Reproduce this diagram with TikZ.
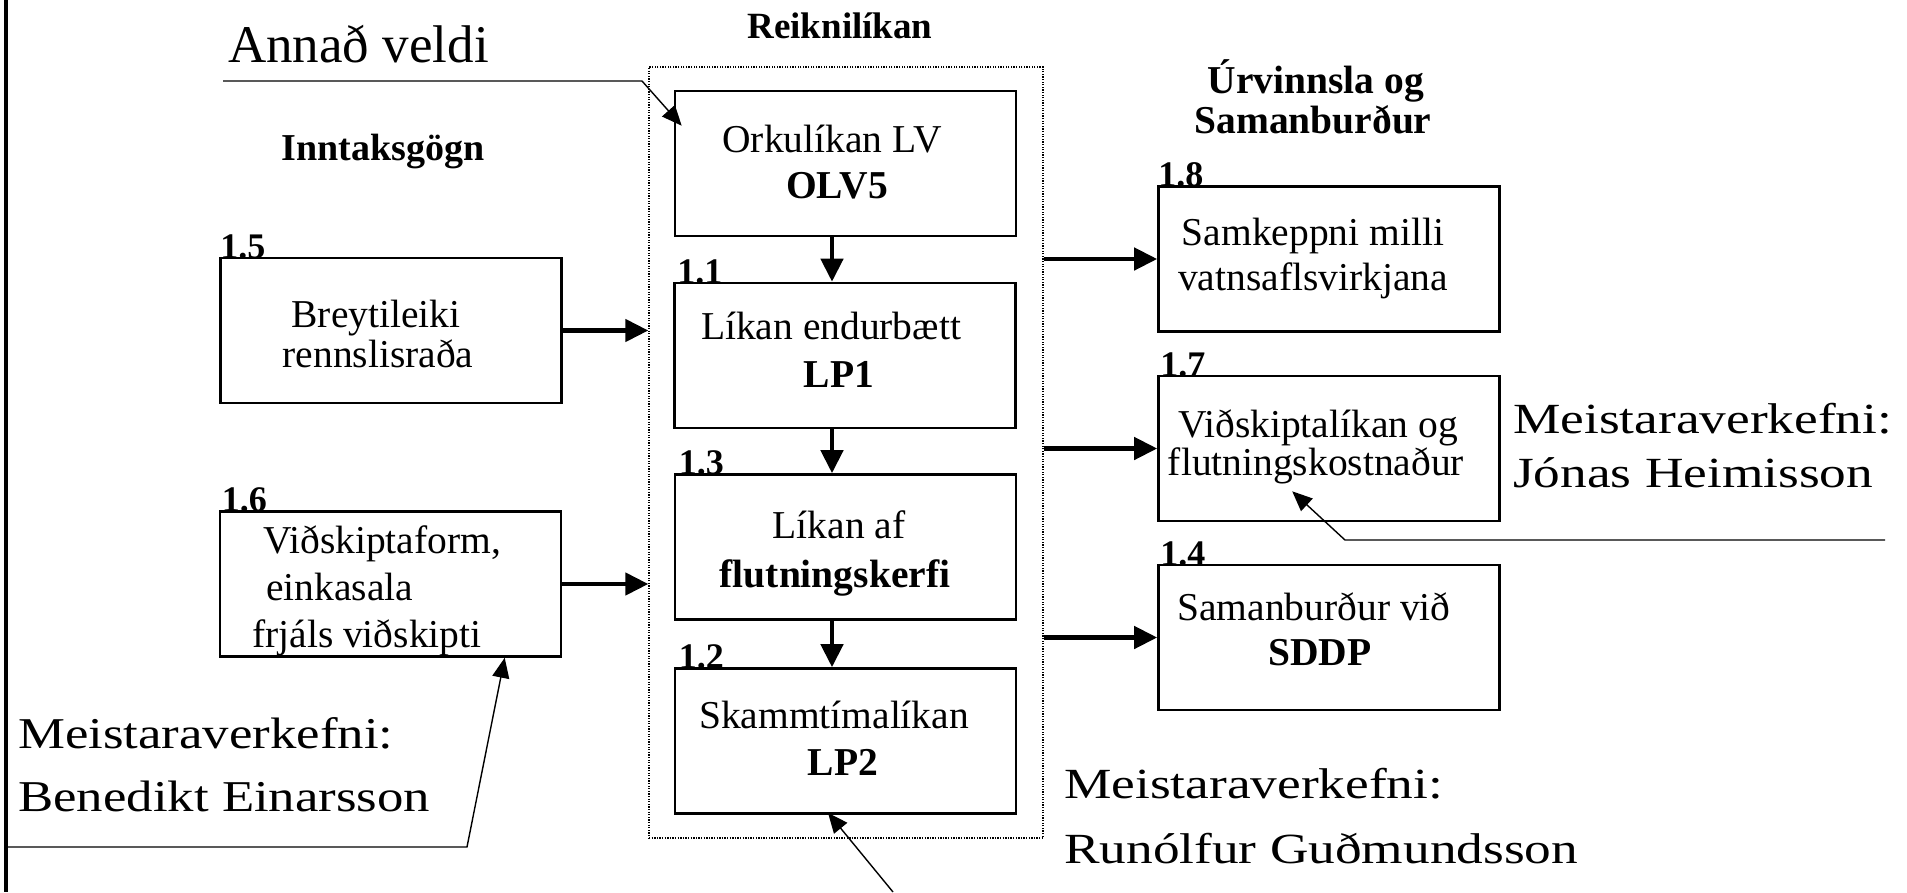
\documentclass[tikz,border=0pt]{standalone}
\usepackage{fontspec}
\usepackage{graphicx}
\setmainfont{Liberation Serif}
\usetikzlibrary{arrows.meta,calc}
\newcommand{\fsz}[1]{\fontsize{#1}{#1}\selectfont}
\begin{document}
\begin{tikzpicture}[x=1pt,y=-1pt,
  box/.style={draw, line width=2.6pt, minimum width=341pt, minimum height=145pt, inner sep=0pt},
  container/.style={draw, line width=1.3pt, dash pattern=on 1.3pt off 1.3pt, minimum width=394pt, minimum height=771pt, inner sep=0pt},
  txt/.style={inner sep=0pt, anchor=base, font=\fsz{39.5}},
  btxt/.style={inner sep=0pt, anchor=base, font=\fsz{39.5}\bfseries},
  num/.style={inner sep=0pt, anchor=base west, font=\fsz{36}\bfseries},
  big/.style={inner sep=0pt, anchor=base west},
  thickarrow/.style={line width=4.5pt, -{Triangle[length=23pt,width=22pt]}},
  thinarrow/.style={line width=1.4pt, -{Triangle[length=20pt,width=17pt]}},
]
\fill[white] (0,0) rectangle (1907,892);
\useasboundingbox (0,0) rectangle (1907,892);

% left frame bar
\draw[line width=3.5pt] (6,0) -- (6,892);

% container
\node[container] (reik) at (846,452.5) {};

% boxes
\node[box] (b15) at (391,330.5) {};
\node[box] (b16) at (390.5,584) {};
\node[box] (olv) at (845.5,163.5) {};
\node[box] (b11) at (845,355.5) {};
\node[box] (b13) at (845.5,547) {};
\node[box] (b12) at (845.5,741) {};
\node[box] (b18) at (1329,259) {};
\node[box] (b17) at (1329,448.5) {};
\node[box] (b14) at (1329,637.5) {};

% number labels
\node[num] (n15) at ($(b15.north west)+(1,1.3)$) {1.5};
\node[num] (n16) at ($(b16.north west)+(3,1.3)$) {1.6};
\node[num] (n11) at ($(b11.north west)+(4,1.3)$) {1.1};
\node[num] (n13) at ($(b13.north west)+(5,1.3)$) {1.3};
\node[num] (n12) at ($(b12.north west)+(5,1.3)$) {1.2};
\node[num] (n18) at ($(b18.north west)+(1,1.3)$) {1.8};
\node[num] (n17) at ($(b17.north west)+(3,1.3)$) {1.7};
\node[num] (n14) at ($(b14.north west)+(3,1.3)$) {1.4};

% headers
\node[btxt, font=\fsz{37}\bfseries] (hreik) at (840,38) {Reiknilíkan};
\node[btxt, font=\fsz{38}\bfseries] (hinn) at (383,160) {Inntaksgögn};
\node[btxt] (hurva) at (1316,93) {Úrvinnsla og};
\node[btxt] (hurvb) at (1313,133) {Samanburður};

% box texts
\node[txt] (t15a) at (376,327) {Breytileiki};
\node[txt] (t15b) at (378,367) {rennslisraða};
\node[txt, anchor=base west] (t16a) at (263,553) {Viðskiptaform,};
\node[txt, anchor=base west] (t16b) at (266,600) {einkasala};
\node[txt, anchor=base west] (t16c) at (252,647) {frjáls viðskipti};
\node[txt] (tolva) at (832,152) {Orkulíkan LV};
\node[btxt] (tolvb) at (837,198) {OLV5};
\node[txt] (t11a) at (831,339) {Líkan endurbætt};
\node[btxt] (t11b) at (839,387) {LP1};
\node[txt] (t13a) at (839,538) {Líkan af};
\node[btxt] (t13b) at (835,587) {flutningskerfi};
\node[txt] (t12a) at (834,728) {Skammtímalíkan};
\node[btxt] (t12b) at (843,775) {LP2};
\node[txt] (t18a) at (1313,245) {Samkeppni milli};
\node[txt] (t18b) at (1313,290) {vatnsaflsvirkjana};
\node[txt] (t17a) at (1318,437) {Viðskiptalíkan og};
\node[txt] (t17b) at (1316,475) {flutningskostnaður};
\node[txt] (t14a) at (1314,620) {Samanburður við};
\node[btxt] (t14b) at (1320,665) {SDDP};

% big annotation texts
\node[big, font=\fsz{53}] (annad) at (228,62) {Annað veldi};
\node[big, font=\fsz{44}] (bena) at (18,748) {\scalebox{1.2}[1]{Meistaraverkefni:}};
\node[big, font=\fsz{44}] (benb) at (18,811) {\scalebox{1.2}[1]{Benedikt Einarsson}};
\node[big, font=\fsz{43}] (jona) at (1513,433) {\scalebox{1.24}[1]{Meistaraverkefni:}};
\node[big, font=\fsz{43}] (jonb) at (1513,487) {\scalebox{1.24}[1]{Jónas Heimisson}};
\node[big, font=\fsz{43}] (runa) at (1064,798) {\scalebox{1.24}[1]{Meistaraverkefni:}};
\node[big, font=\fsz{43}] (runb) at (1064,863) {\scalebox{1.24}[1]{Runólfur Guðmundsson}};

% thick arrows
\coordinate (vx) at (832,0);
\draw[thickarrow] (b15.east) -- (b15.east -| reik.west);
\draw[thickarrow] (b16.east) -- (b16.east -| reik.west);
\draw[thickarrow] (olv.south -| vx) -- (b11.north -| vx);
\draw[thickarrow] (b11.south -| vx) -- (b13.north -| vx);
\draw[thickarrow] (b13.south -| vx) -- (b12.north -| vx);
\draw[thickarrow] (reik.east |- b18.west) -- (b18.west);
\draw[thickarrow] (reik.east |- b17.west) -- (b17.west);
\draw[thickarrow] (reik.east |- b14.west) -- (b14.west);

% thin annotation connectors
\coordinate (avs) at (223,81);
\coordinate (avc) at (642,81);
\draw[thinarrow] (avs) -- (avc) -- ($(olv.north west)+(8,36)$);
\coordinate (bns) at (7,847);
\coordinate (bnc) at (467,847);
\draw[thinarrow] (bns) -- (bnc) -- ($(b16.south west)+(286,0)$);
\coordinate (jns) at (1885,540);
\coordinate (jnc) at (1345,540);
\draw[thinarrow] (jns) -- (jnc) -- ($(b17.south west)+(135,-31)$);
\coordinate (rns) at (893,892);
\draw[thinarrow] (rns) -- ($(b12.south)+(-17.5,-2)$);
\end{tikzpicture}
\end{document}
